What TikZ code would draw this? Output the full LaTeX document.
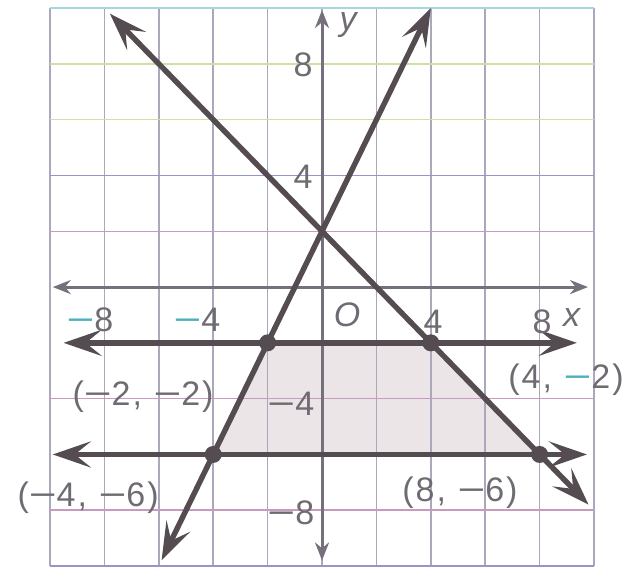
\documentclass[tikz,border=0pt]{standalone}
\usepackage{fontspec}
\setmainfont[LetterSpace=6]{Liberation Sans}
\usetikzlibrary{arrows.meta}
\definecolor{inkline}{RGB}{84,76,80}
\definecolor{axisgray}{RGB}{118,112,124}
\definecolor{gridgray}{RGB}{172,168,188}
\definecolor{gridcyan}{RGB}{165,215,222}
\definecolor{gridgreen}{RGB}{205,225,165}
\definecolor{gridblue}{RGB}{155,145,205}
\definecolor{gridpink}{RGB}{200,155,190}
\definecolor{regionfill}{RGB}{236,229,232}
\definecolor{labelgray}{RGB}{112,107,114}
\definecolor{minuscyan}{RGB}{80,175,190}
\newcommand{\wideminus}{\scalebox{1.4}[1]{−}}
\newcommand{\cyanminus}{\textcolor{minuscyan}{\wideminus}}
\tikzset{
  gridline/.style={draw=gridgray, line width=0.75pt},
  axisline/.style={draw=axisgray, line width=1.5pt, {Stealth[length=9pt,width=7pt]}-{Stealth[length=9pt,width=7pt]}},
  boundline/.style={draw=inkline, line width=2.7pt, {Stealth[length=19pt,width=13pt,inset=8pt]}-{Stealth[length=19pt,width=13pt,inset=8pt]}},
  vertexdot/.style={circle, fill=inkline, minimum size=8.5pt, inner sep=0pt},
  pointlabel/.style={font=\fontsize{17}{19}\selectfont, text=labelgray, inner sep=1pt},
  ticklabel/.style={pointlabel}
}
\begin{document}
\begin{tikzpicture}[x=13.6pt, y=13.95pt]
  \useasboundingbox (-11.84,-10.14) rectangle (11.25,10.29);
  % corners of the feasible region
  \coordinate (v1) at (-2,-2);
  \coordinate (v2) at (4,-2);
  \coordinate (v3) at (8,-6);
  \coordinate (v4) at (-4,-6);
  \fill[regionfill] (v1) -- (v2) -- (v3) -- (v4) -- cycle;
  % grid
  \foreach \gx in {-10,-8,...,10}
    \draw[gridline] (\gx,-10) -- (\gx,10);
  \foreach \gy/\gc in {10/gridcyan,8/gridgreen,6/gridgreen,4/gridblue,2/gridpink,-4/gridpink,-8/gridpink,-10/gridblue}
    \draw[gridline, draw=\gc] (-10,\gy) -- (10,\gy);
  % axes
  \coordinate (xl) at (-9.9,0);
  \coordinate (xr) at (9.78,0);
  \coordinate (yb) at (0,-9.8);
  \coordinate (yt) at (0,9.93);
  \draw[axisline] (xl) -- (xr);
  \draw[axisline] (yb) -- (yt);
  % boundary lines
  \coordinate (upL) at (-9.5,-2);
  \coordinate (upR) at (9.37,-2);
  \coordinate (loL) at (-9.9,-6);
  \coordinate (loR) at (9.74,-6);
  \coordinate (stA) at (-5.9,-9.8);
  \coordinate (stB) at (4,10);
  \coordinate (dcA) at (-7.8,9.8);
  \coordinate (dcB) at (9.8,-7.8);
  \draw[boundline] (upL) -- (upR);
  \draw[boundline] (loL) -- (loR);
  \draw[boundline] (stA) -- (stB);
  \draw[boundline] (dcA) -- (dcB);
  % vertices
  \node[vertexdot] (d1) at (v1) {};
  \node[vertexdot] (d2) at (v2) {};
  \node[vertexdot] (d3) at (v3) {};
  \node[vertexdot] (d4) at (v4) {};
  \node[pointlabel] (lb1) at (-6.58,-3.94) {(\wideminus2, \wideminus2)};
  \node[pointlabel] (lb2) at (8.97,-3.33) {(4, \cyanminus2)};
  \node[pointlabel] (lb3) at (5.07,-7.38) {(8, \wideminus6)};
  \node[pointlabel] (lb4) at (-8.6,-7.56) {(\wideminus4, \wideminus6)};
  % axis labels
  \node[ticklabel] (tx1) at (-8.53,-1.18) {\cyanminus8};
  \node[ticklabel] (tx2) at (-4.6,-1.18) {\cyanminus4};
  \node[ticklabel] (tx3) at (4.08,-1.25) {4};
  \node[ticklabel] (tx4) at (8.09,-1.25) {8};
  \node[ticklabel] (xname) at (9.23,-1.1) {\textit{x}};
  \node[ticklabel] (orig) at (0.96,-1.0) {\textit{O}};
  \node[ticklabel] (ty1) at (-0.7,7.96) {8};
  \node[ticklabel] (ty2) at (-0.7,3.94) {4};
  \node[ticklabel, anchor=east] (ty3) at (-0.2,-4.2) {\wideminus4};
  \node[ticklabel, anchor=east] (ty4) at (-0.2,-8.1) {\wideminus8};
  \node[ticklabel] (yname) at (1.03,9.39) {\textit{y}};
\end{tikzpicture}
\end{document}
